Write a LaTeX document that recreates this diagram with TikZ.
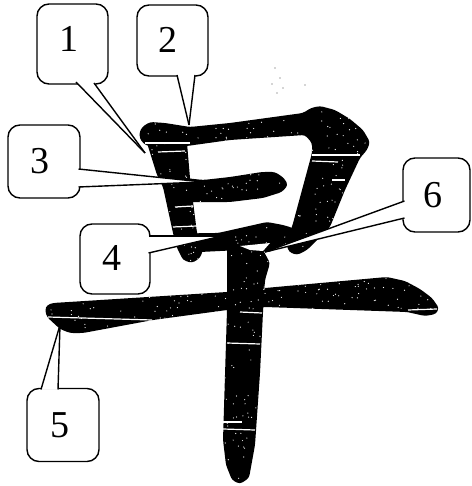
\documentclass[tikz,border=0pt]{standalone}
\usepackage{fontspec}
\setmainfont{Liberation Serif}
\newcommand{\glyphpath}{
 (139,134)--(142,127)--(150,122)--(165,123)--(190,127)--(230,123)--(303,113)--(311,108)--(320,106)--(335,110)--(350,119)--(363,130)--(370,142)--(367,150)--(360,158)--(345,190)--(330,227)--(317,240)--(307,250)--(297,255)--(289,252)--(285,240)--(292,227)--(312,153)--(312,143)--(305,135)--(230,140)--(187,146)--(147,146)--(141,141)--cycle
 (147,143)--(187,143)--(190,178)--(197,233)--(203,250)--(200,258)--(192,263)--(183,260)--(177,248)--(173,233)--(163,187)--(157,175)--cycle
 (185,178)--(203,180)--(230,177)--(262,172)--(275,172)--(284,178)--(288,185)--(282,192)--(263,198)--(230,202)--(190,202)--cycle
 (177,248)--(197,233)--(218,233)--(267,222)--(283,225)--(293,228)--(288,242)--(270,252)--(240,250)--(200,252)--cycle
 (227,240)--(263,250)--(270,263)--(265,280)--(263,312)--(260,373)--(255,445)--(249,478)--(240,484)--(232,480)--(226,465)--(223,440)--(227,310)--cycle
 (45,310)--(47,305)--(53,303)--(227,292)--(265,288)--(387,277)--(405,281)--(420,289)--(432,298)--(439,308)--(436,314)--(425,316)--(407,312)--(265,307)--(227,310)--(153,320)--(83,333)--(70,333)--(60,329)--(47,317)--cycle
}
\tikzset{
 inkshape/.style={fill=black,rounded corners=3pt},
 streak/.style={white,line width=1.2pt},
 callout/.style={draw=black,line width=1.4pt,fill=white,rounded corners=12pt,inner sep=0pt},
 numeral/.style={font=\fontsize{38}{38}\selectfont,inner sep=0pt},
 tail/.style={fill=white,draw=none},
 tailedge/.style={black,line width=1.4pt},
}
\begin{document}
\begin{tikzpicture}[x=1pt,y=-1pt]
\useasboundingbox (0,0) rectangle (471,486);
\fill[white] (0,0) rectangle (471,486);
% ink
\fill[inkshape] \glyphpath;
\begin{scope}
 \clip[rounded corners=3pt] \glyphpath;
 \pgfmathsetseed{4711}
 \foreach \i in {1,...,1400}{
  \pgfmathsetmacro{\px}{40+rnd*400}
  \pgfmathsetmacro{\py}{105+rnd*380}
  \fill[white] (\px,\py) circle (0.6pt);
 }
\end{scope}
% scan streaks
\foreach \ax/\ay/\bx/\by in {145/143/190/143,158/152/185/151,175/207/193/206,173/227/197/226,312/155/360/155,312/161/338/162,332/180/345/180,408/310/437/309,240/312/262/313,48/317/152/320,227/343/260/344,223/422/242/422,223/429/255/430}
 \draw[streak] (\ax,\ay)--(\bx,\by);
% specks in the background
\foreach \px/\py in {275/68,280/78,272/84,277/93,305/85,283/88}
 \fill[black!70] (\px,\py) circle (0.7pt);
% callout boxes
\node[callout,minimum width=71pt,minimum height=80pt] (n1) at (72.5,44) {};
\node[callout,minimum width=71pt,minimum height=71pt] (n2) at (172.5,40.5) {};
\node[callout,minimum width=72pt,minimum height=73pt] (n3) at (44,161.5) {};
\node[callout,minimum width=70pt,minimum height=70pt] (n4) at (115,259) {};
\node[callout,minimum width=72pt,minimum height=73pt] (n5) at (63,425) {};
\node[callout,minimum width=67pt,minimum height=74pt] (n6) at (436.5,195) {};
% digits
\node[numeral] (d1) at (69,39) {1};
\node[numeral] (d2) at (168,40) {2};
\node[numeral] (d3) at (40,161) {3};
\node[numeral] (d4) at (112,258) {4};
\node[numeral] (d5) at (60,425) {5};
\node[numeral] (d6) at (433,195) {6};
% tails
\coordinate (t1a) at (76,82); \coordinate (t1b) at (94,83); \coordinate (t1) at (145,153);
\coordinate (t2a) at (177,75); \coordinate (t2b) at (195,75); \coordinate (t2) at (189,125);
\coordinate (t3a) at (78.5,169); \coordinate (t3b) at (78.5,187); \coordinate (t3) at (203,182);
\coordinate (t4a) at (148.5,236); \coordinate (t4b) at (148.5,253); \coordinate (t4) at (222,236);
\coordinate (t5a) at (41,389.5); \coordinate (t5b) at (58,389.5); \coordinate (t5) at (60,325);
\coordinate (t6a) at (404.5,201); \coordinate (t6b) at (404.5,218); \coordinate (t6) at (265,252);
\foreach \n in {1,...,6}{
 \fill[tail] (t\n a)--(t\n)--(t\n b)--cycle;
 \draw[tailedge] (t\n a)--(t\n);
 \draw[tailedge] (t\n b)--(t\n);
}
% gap where the tail of 6 meets the main stroke
\fill[white] (240,246)--(270,243)--(263,251)--(250,250)--cycle;
\end{tikzpicture}
\end{document}
